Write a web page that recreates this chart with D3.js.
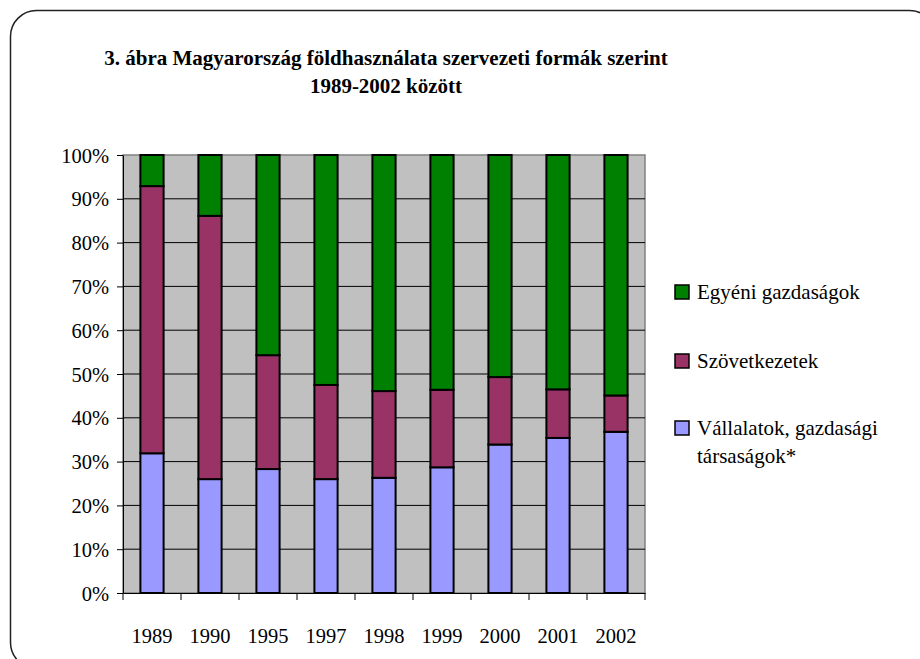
<!DOCTYPE html>
<html>
<head>
<meta charset="utf-8">
<script src="https://cdn.jsdelivr.net/npm/d3@7"></script>
<style>
  html, body { margin: 0; padding: 0; background: #ffffff; }
  svg { display: block; }
  text { font-family: "Liberation Serif", "Times New Roman", serif; fill: #000; }
</style>
</head>
<body>
<svg id="chart" width="920" height="659"></svg>
<script>
const years = ["1989", "1990", "1995", "1997", "1998", "1999", "2000", "2001", "2002"];
const seriesNames = ["Vállalatok, gazdasági társaságok*", "Szövetkezetek", "Egyéni gazdaságok"];
const vallalatok = [31.9, 26.0, 28.3, 26.0, 26.3, 28.7, 33.9, 35.4, 36.8];
const szovetkezetek = [61.0, 60.1, 26.0, 21.5, 19.8, 17.7, 15.4, 11.1, 8.3];
const egyeni = [7.1, 13.9, 45.7, 52.5, 53.9, 53.6, 50.7, 53.5, 54.9];
const colors = ["#9999FF", "#993366", "#008000"];
const yTicks = [0, 10, 20, 30, 40, 50, 60, 70, 80, 90, 100];
const titleLines = ["3. ábra Magyarország földhasználata szervezeti formák szerint", "1989-2002 között"];
const legendEntries = [
  { name: "Egyéni gazdaságok", lines: ["Egyéni gazdaságok"], idx: 2 },
  { name: "Szövetkezetek", lines: ["Szövetkezetek"], idx: 1 },
  { name: "Vállalatok, gazdasági társaságok*", lines: ["Vállalatok, gazdasági", "társaságok*"], idx: 0 }
];

const svg = d3.select("#chart");

// outer rounded frame
svg.append("rect")
  .attr("x", 10.5).attr("y", 10.5)
  .attr("width", 925).attr("height", 658)
  .attr("rx", 26).attr("ry", 26)
  .attr("fill", "none").attr("stroke", "#222").attr("stroke-width", 1.5);

// title
svg.append("g").selectAll("text").data(titleLines).join("text")
  .attr("x", 386).attr("y", (d, i) => 65 + i * 28)
  .attr("text-anchor", "middle")
  .attr("font-size", 21).attr("font-weight", "bold")
  .text(d => d);

const plot = { left: 123, right: 645, top: 155, bottom: 593 };

const x = d3.scaleBand().domain(years).range([plot.left, plot.right]).paddingInner(0.6).paddingOuter(0.3);
const xOuter = d3.scaleBand().domain(years).range([plot.left, plot.right]);
const y = d3.scaleLinear().domain([0, 100]).range([plot.bottom, plot.top]);

// plot background
svg.append("rect")
  .attr("x", plot.left).attr("y", plot.top)
  .attr("width", plot.right - plot.left).attr("height", plot.bottom - plot.top)
  .attr("fill", "#C0C0C0").attr("stroke", "#808080").attr("stroke-width", 1.5);

// gridlines
svg.append("g").selectAll("line").data(yTicks.filter(t => t > 0 && t < 100)).join("line")
  .attr("x1", plot.left).attr("x2", plot.right)
  .attr("y1", d => y(d)).attr("y2", d => y(d))
  .attr("stroke", "#000").attr("stroke-width", 1);

// stacked data
const table = years.map((yr, i) => ({ year: yr, s0: vallalatok[i], s1: szovetkezetek[i], s2: egyeni[i] }));
const stack = d3.stack().keys(["s0", "s1", "s2"]);
const stacked = stack(table);

svg.append("g").selectAll("g").data(stacked).join("g")
  .attr("fill", (d, i) => colors[i])
  .selectAll("rect").data(d => d).join("rect")
  .attr("x", d => x(d.data.year))
  .attr("width", x.bandwidth())
  .attr("y", d => y(d[1]))
  .attr("height", d => y(d[0]) - y(d[1]))
  .attr("stroke", "#000").attr("stroke-width", 2);

// y axis
const yAxis = d3.axisLeft(y).tickValues(yTicks).tickFormat(d => d + "%").tickSize(6).tickSizeOuter(0);
const yg = svg.append("g").attr("transform", `translate(${plot.left},0)`).call(yAxis);
yg.select(".domain").attr("stroke", "#000").attr("stroke-width", 1);
yg.selectAll(".tick line").attr("stroke", "#000");
yg.selectAll(".tick text").attr("font-size", 20.5).attr("font-family", "Liberation Serif").attr("x", -14).attr("dy", "0.35em");

// x axis
const xAxis = d3.axisBottom(xOuter).tickSize(0).tickSizeOuter(0);
const xg = svg.append("g").attr("transform", `translate(0,${plot.bottom})`).call(xAxis);
xg.select(".domain").attr("stroke", "#000").attr("stroke-width", 1);
xg.selectAll(".tick text").attr("font-size", 20.5).attr("font-family", "Liberation Serif").attr("y", 50).attr("dy", 0);
// category separator ticks
const sepPositions = years.map(yr => xOuter(yr)).concat([plot.right]);
xg.append("g").selectAll("line").data(sepPositions).join("line")
  .attr("x1", d => d).attr("x2", d => d).attr("y1", 0).attr("y2", 7)
  .attr("stroke", "#000");

// legend
const leg = svg.append("g");
const legY = [292, 361, 428];
legendEntries.forEach((e, k) => {
  leg.append("rect")
    .attr("x", 675).attr("y", legY[k] - 7)
    .attr("width", 14).attr("height", 14)
    .attr("fill", colors[e.idx]).attr("stroke", "#000").attr("stroke-width", 1.5);
  e.lines.forEach((ln, j) => {
    leg.append("text")
      .attr("x", 697).attr("y", legY[k] + 7 + j * 28)
      .attr("font-size", 21)
      .text(ln);
  });
});
</script>
</body>
</html>
